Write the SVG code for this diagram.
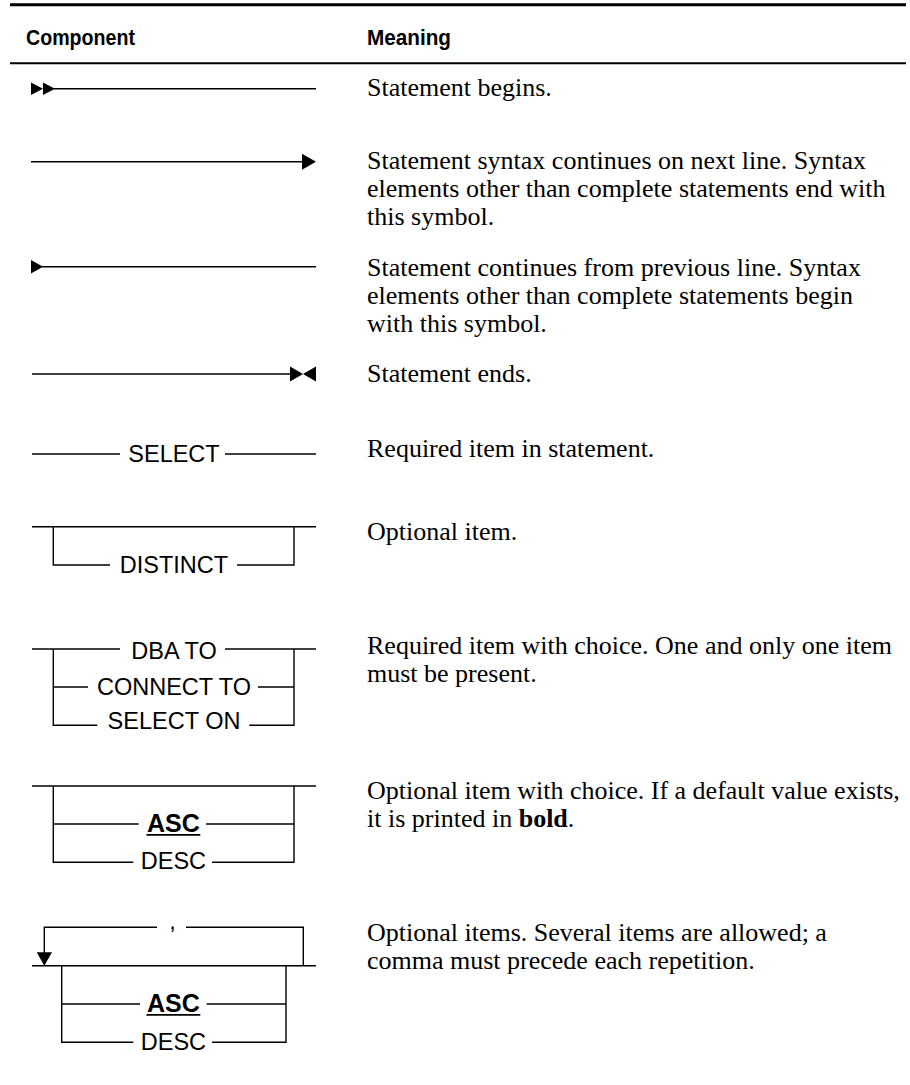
<svg xmlns="http://www.w3.org/2000/svg" width="910" height="1085" viewBox="0 0 910 1085">
  <style>
    .ln { stroke: #000; stroke-width: 1.4; fill: none; }
    .ar { fill: #000; stroke: none; }
    .kw { font-family: "Liberation Sans", Arial, sans-serif; font-size: 23.5px; text-anchor: middle; fill: #000; }
    .kwb { font-family: "Liberation Sans", Arial, sans-serif; font-size: 25px; font-weight: bold; text-anchor: middle; fill: #000; }
    .tx { font-family: "Liberation Serif", "Times New Roman", serif; font-size: 26px; fill: #000; }
    .hd { font-family: "Liberation Sans", Arial, sans-serif; font-size: 22px; font-weight: bold; fill: #000; }
    .ul { stroke: #000; stroke-width: 1.8; }
  </style>
  <defs>
    <path id="tri-small" d="M0,-6.2 L12,0 L0,6.2 Z"/>
  </defs>
  <rect width="910" height="1085" fill="#fff"/>

  <!-- table rules and header -->
  <g id="header">
    <line x1="10" y1="4.8" x2="906" y2="4.8" stroke="#000" stroke-width="3"/>
    <text class="hd" x="26" y="45" textLength="109" lengthAdjust="spacingAndGlyphs">Component</text>
    <text class="hd" x="367" y="45" textLength="84" lengthAdjust="spacingAndGlyphs">Meaning</text>
    <line x1="10" y1="63.3" x2="906" y2="63.3" stroke="#000" stroke-width="2"/>
  </g>

  <!-- statement begins -->
  <g id="row-begin">
    <use href="#tri-small" class="ar" x="31" y="88.7"/>
    <use href="#tri-small" class="ar" x="43" y="88.7"/>
    <line class="ln" x1="54" y1="88.7" x2="316" y2="88.7"/>
    <text class="tx" x="367" y="95.7">Statement begins.</text>
  </g>

  <!-- syntax continues on next line -->
  <g id="row-continues-next">
    <line class="ln" x1="31" y1="161.7" x2="303" y2="161.7"/>
    <path class="ar" d="M302,153.7 L316,161.7 L302,169.7 Z"/>
    <text class="tx" x="367" y="169.3">Statement syntax continues on next line. Syntax</text>
    <text class="tx" x="367" y="197.3">elements other than complete statements end with</text>
    <text class="tx" x="367" y="225.3">this symbol.</text>
  </g>

  <!-- continues from previous line -->
  <g id="row-continues-prev">
    <path class="ar" d="M31,260 L43,266.7 L31,273.4 Z"/>
    <line class="ln" x1="42" y1="266.7" x2="316" y2="266.7"/>
    <text class="tx" x="367" y="276">Statement continues from previous line. Syntax</text>
    <text class="tx" x="367" y="304">elements other than complete statements begin</text>
    <text class="tx" x="367" y="332">with this symbol.</text>
  </g>

  <!-- statement ends -->
  <g id="row-end">
    <line class="ln" x1="32" y1="374" x2="291" y2="374"/>
    <path class="ar" d="M290,366.5 L303,374 L290,381.5 Z"/>
    <path class="ar" d="M316,366.5 L303,374 L316,381.5 Z"/>
    <text class="tx" x="367" y="381.7">Statement ends.</text>
  </g>

  <!-- required item -->
  <g id="row-required">
    <line class="ln" x1="32" y1="454" x2="120" y2="454"/>
    <text class="kw" x="174" y="461.7">SELECT</text>
    <line class="ln" x1="225" y1="454" x2="316" y2="454"/>
    <text class="tx" x="367" y="457.3">Required item in statement.</text>
  </g>

  <!-- optional item -->
  <g id="row-optional">
    <line class="ln" x1="32" y1="526.7" x2="316" y2="526.7"/>
    <path class="ln" d="M53.3,526.7 V565 H110 M237,565 H294 V526.7"/>
    <text class="kw" x="174" y="572.5">DISTINCT</text>
    <text class="tx" x="367" y="540">Optional item.</text>
  </g>

  <!-- required item with choice -->
  <g id="row-choice">
    <line class="ln" x1="32" y1="649" x2="120" y2="649"/>
    <line class="ln" x1="225" y1="649" x2="316" y2="649"/>
    <text class="kw" x="174" y="659">DBA TO</text>
    <path class="ln" d="M53.3,649 V725.3 H97.3 M249.3,725.3 H294 V649"/>
    <line class="ln" x1="53.3" y1="687" x2="88" y2="687"/>
    <line class="ln" x1="258" y1="687" x2="294" y2="687"/>
    <text class="kw" x="174" y="695">CONNECT TO</text>
    <text class="kw" x="174" y="729.3">SELECT ON</text>
    <text class="tx" x="367" y="654.3">Required item with choice. One and only one item</text>
    <text class="tx" x="367" y="682.3">must be present.</text>
  </g>

  <!-- optional item with choice -->
  <g id="row-optional-choice">
    <line class="ln" x1="32" y1="786" x2="316" y2="786"/>
    <path class="ln" d="M53.3,786 V862.3 H133.3 M212,862.3 H294 V786"/>
    <line class="ln" x1="53.3" y1="824" x2="138.7" y2="824"/>
    <line class="ln" x1="206" y1="824" x2="294" y2="824"/>
    <text class="kwb" x="173.4" y="832">ASC</text>
    <line class="ul" x1="146.5" y1="834.8" x2="200.3" y2="834.8"/>
    <text class="kw" x="173.4" y="869.3">DESC</text>
    <text class="tx" x="367" y="799.3">Optional item with choice. If a default value exists,</text>
    <text class="tx" x="367" y="827.3">it is printed in <tspan font-weight="bold">bold</tspan>.</text>
  </g>

  <!-- repeated optional items -->
  <g id="row-repeat">
    <path class="ln" d="M44.3,953 V927.3 H157 M186,927.3 H303.3 V965.7"/>
    <text class="kw" x="172.5" y="929">,</text>
    <path class="ar" d="M36.7,952.3 L52,952.3 L44.3,965.7 Z"/>
    <line class="ln" x1="32" y1="965.7" x2="316" y2="965.7"/>
    <path class="ln" d="M61.7,965.7 V1042.3 H133.3 M212,1042.3 H286 V965.7"/>
    <line class="ln" x1="61.7" y1="1004" x2="140" y2="1004"/>
    <line class="ln" x1="206.7" y1="1004" x2="286" y2="1004"/>
    <text class="kwb" x="173.4" y="1012">ASC</text>
    <line class="ul" x1="146.5" y1="1014.8" x2="200.3" y2="1014.8"/>
    <text class="kw" x="173.4" y="1049.5">DESC</text>
    <text class="tx" x="367" y="941">Optional items. Several items are allowed; a</text>
    <text class="tx" x="367" y="969.3">comma must precede each repetition.</text>
  </g>
</svg>
